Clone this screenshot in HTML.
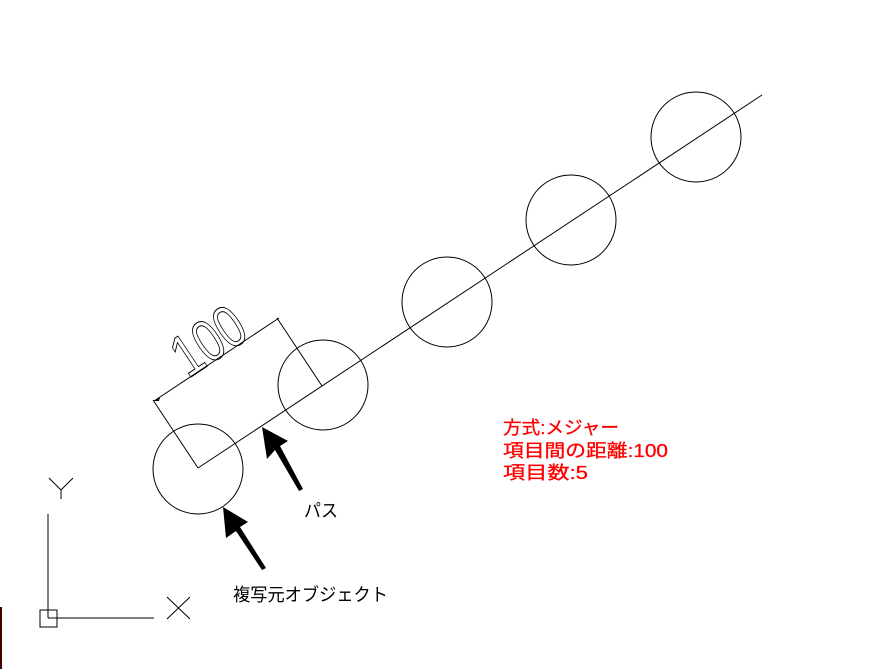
<!DOCTYPE html>
<html><head><meta charset="utf-8"><style>
body{margin:0;background:#fff;}
svg{display:block;}
</style></head><body>
<svg width="886" height="669" viewBox="0 0 886 669" xmlns="http://www.w3.org/2000/svg">
<g fill="none" stroke="#000" stroke-width="1">
<line x1="198" y1="468" x2="762" y2="95"/>
<circle cx="198" cy="469" r="45"/>
<circle cx="323" cy="385" r="45"/>
<circle cx="447" cy="302" r="45"/>
<circle cx="571" cy="220" r="45"/>
<circle cx="696" cy="137" r="45"/>
<line x1="198" y1="468" x2="153" y2="400"/>
<line x1="322" y1="386" x2="277" y2="318"/>
<line x1="154" y1="401" x2="279" y2="318"/>
<line x1="48" y1="514" x2="48" y2="618"/>
<line x1="48" y1="618" x2="154" y2="618"/>
<rect x="40" y="610" width="17" height="17"/>
<line x1="49" y1="478" x2="61" y2="490"/>
<line x1="73" y1="478" x2="61" y2="490"/>
<line x1="61" y1="490" x2="61" y2="499"/>
<line x1="167" y1="597" x2="190" y2="619"/>
<line x1="190" y1="597" x2="167" y2="619"/>
</g>
<line x1="1" y1="607" x2="1" y2="669" stroke="#400" stroke-width="2"/>
<polygon points="154,401 160,397 159,401" fill="#000"/>
<text transform="translate(188,379) rotate(-33.7)" font-family="Liberation Sans, sans-serif" font-size="60" fill="none" stroke="#000" stroke-width="1" textLength="76" lengthAdjust="spacingAndGlyphs">100</text>
<polygon points="262,427 288,441 280,446 303,489 299,491 275,450 267,459" fill="#000"/>
<polygon points="223,507 248,522 240,527 266,568 262,570 236,531 226,538" fill="#000"/>
<g font-family="Liberation Sans, 'Noto Sans CJK JP', sans-serif" font-size="18" fill="#000">
<text x="304" y="517" textLength="34" lengthAdjust="spacingAndGlyphs">パス</text>
<text x="233" y="601" textLength="155" lengthAdjust="spacingAndGlyphs">複写元オブジェクト</text>
</g>
<g font-family="Liberation Sans, 'Noto Sans CJK JP', sans-serif" font-size="18" fill="#f00" stroke="#f00" stroke-width="0.3">
<text x="503" y="434" textLength="116" lengthAdjust="spacingAndGlyphs">方式:メジャー</text>
<text x="503" y="457" textLength="165" lengthAdjust="spacingAndGlyphs">項目間の距離:100</text>
<text x="503" y="479" textLength="85" lengthAdjust="spacingAndGlyphs">項目数:5</text>
</g>
</svg>
</body></html>
